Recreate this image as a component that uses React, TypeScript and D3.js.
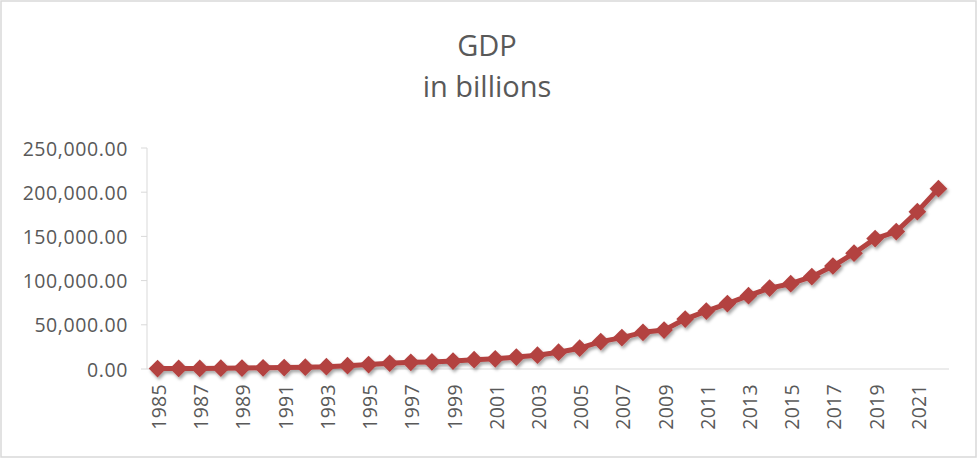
import React from "react";
import * as d3 from "d3";

const years: string[] = [
  "1985","1986","1987","1988","1989","1990","1991","1992","1993","1994",
  "1995","1996","1997","1998","1999","2000","2001","2002","2003","2004",
  "2005","2006","2007","2008","2009","2010","2011","2012","2013","2014",
  "2015","2016","2017","2018","2019","2020","2021","2022",
];
const gdp: number[] = [
  500, 600, 700, 900, 1100, 1300, 1600, 2000, 2600, 3800,
  5000, 6500, 7500, 8000, 9000, 10500, 11500, 13500, 15600, 19000,
  23500, 31000, 35500, 41500, 44000, 56500, 65500, 74000, 83000, 91500,
  96500, 104500, 116500, 131000, 147500, 155500, 178000, 204000,
];
const yTicks: number[] = [0, 50000, 100000, 150000, 200000, 250000];
const titleLines: string[] = ["GDP", "in billions"];

const W = 977;
const H = 459;
const plotLeft = 147;
const plotRight = 949;
const plotTop = 148;
const plotBottom = 369;
const textColor = "#595959";
const axisColor = "#d9d9d9";
const seriesColor = "#b34241";
const font = "'Open Sans', 'Noto Sans', sans-serif";

export default function App() {
  const x = d3.scalePoint<string>().domain(years).range([plotLeft, plotRight]).padding(0.5);
  const y = d3.scaleLinear().domain([0, 250000]).range([plotBottom, plotTop]);
  const fmt = d3.format(",.2f");
  const line = d3
    .line<number>()
    .x((_, i) => x(years[i]) as number)
    .y((d) => y(d));
  const diamond = d3.symbol().type(d3.symbolDiamond2).size(200)();

  return (
    <div style={{ position: "absolute", left: 0, top: 0 }}>
      <svg width={W} height={H} style={{ display: "block", background: "#fff" }}>
        <defs>
          <filter id="shadow" x="-10%" y="-10%" width="120%" height="130%">
            <feDropShadow dx="1.5" dy="2.5" stdDeviation="1.5" floodColor="#000" floodOpacity="0.35" />
          </filter>
        </defs>
        <rect x={1} y={1} width={W - 2} height={H - 3} fill="#fff" stroke={axisColor} strokeWidth={1.5} />
        {titleLines.map((t, i) => (
          <text
            key={t}
            x={487}
            y={56 + i * 41}
            textAnchor="middle"
            fontFamily={font}
            fontSize={29}
            fill={textColor}
          >
            {t}
          </text>
        ))}
        {/* y axis */}
        <line x1={plotLeft} x2={plotLeft} y1={plotTop} y2={plotBottom} stroke={axisColor} strokeWidth={1} />
        {yTicks.map((t) => (
          <g key={t}>
            <line x1={plotLeft - 6} x2={plotLeft} y1={y(t)} y2={y(t)} stroke={axisColor} strokeWidth={1} />
            <text
              x={128}
              y={y(t)}
              textAnchor="end"
              dominantBaseline="central"
              fontFamily={font}
              fontSize={19.5}
              letterSpacing={0.6}
              fill={textColor}
            >
              {fmt(t)}
            </text>
          </g>
        ))}
        {/* x axis */}
        <line x1={plotLeft} x2={plotRight} y1={plotBottom} y2={plotBottom} stroke={axisColor} strokeWidth={1.2} />
        {years.map((yr, i) =>
          i % 2 === 0 ? (
            <text
              key={yr}
              transform={`translate(${(x(yr) as number) + 1},${plotBottom + 15}) rotate(-90)`}
              textAnchor="end"
              dominantBaseline="central"
              fontFamily={font}
              fontSize={19.5}
              letterSpacing={0.3}
              fill={textColor}
            >
              {yr}
            </text>
          ) : null
        )}
        {/* series */}
        <g filter="url(#shadow)">
          <path d={line(gdp) || ""} fill="none" stroke={seriesColor} strokeWidth={5} strokeLinejoin="round" />
          {gdp.map((v, i) => (
            <path
              key={years[i]}
              d={diamond || ""}
              transform={`translate(${x(years[i])},${y(v)})`}
              fill={seriesColor}
            />
          ))}
        </g>
      </svg>
    </div>
  );
}
